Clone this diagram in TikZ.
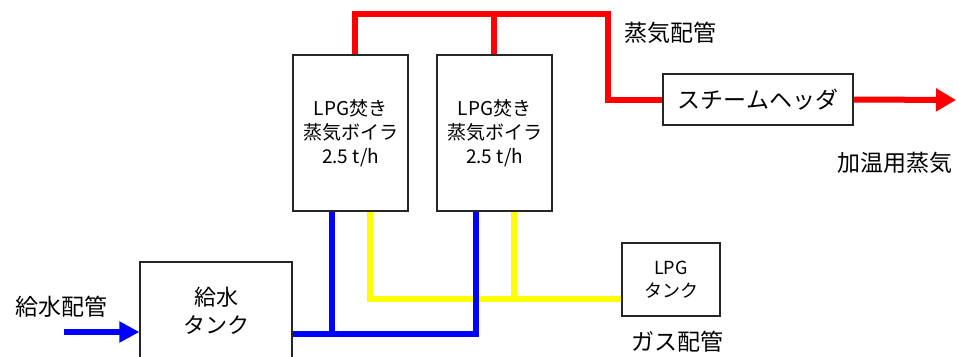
\documentclass[tikz,border=0pt]{standalone}
\usepackage{fontspec}
\setmainfont{Noto Sans CJK JP}
\usetikzlibrary{arrows.meta}
\tikzset{
  box/.style={draw=black!85, line width=1.2pt, fill=white, inner sep=0pt, align=center},
  pipe/.style={line width=6pt, line join=miter},
  redpipe/.style={pipe, draw={rgb,255:red,255;green,0;blue,0}},
  bluepipe/.style={pipe, draw={rgb,255:red,0;green,0;blue,255}},
  yellowpipe/.style={pipe, draw={rgb,255:red,255;green,255;blue,0}},
  lbl/.style={inner sep=0pt, font=\fontsize{23}{28}\selectfont},
}
\begin{document}
\begin{tikzpicture}[x=1pt,y=-1pt]
\useasboundingbox (0,0) rectangle (958,356);
\clip (0,0) rectangle (958,356);
% nodes
\node[box, minimum width=115pt, minimum height=156pt, font=\fontsize{19}{24}\selectfont] (b1) at (350.5,133)
  {LPG焚き\\蒸気ボイラ\\{\fontsize{19}{24}\selectfont 2.5 t/h}};
\node[box, minimum width=115pt, minimum height=156pt, font=\fontsize{19}{24}\selectfont] (b2) at (494.5,133)
  {LPG焚き\\蒸気ボイラ\\{\fontsize{19}{24}\selectfont 2.5 t/h}};
\node[box, minimum width=190pt, minimum height=51pt, font=\fontsize{23}{28}\selectfont] (hdr) at (758,99.5) {スチームヘッダ};
\node[box, minimum width=152pt, minimum height=98pt, font=\fontsize{22}{28}\selectfont] (tank) at (216,311) {給水\\タンク};
\node[box, minimum width=98pt, minimum height=73pt, font=\fontsize{18}{23}\selectfont] (lpg) at (671,279.5) {LPG\\タンク};
% labels
\node[lbl] (l1) at (670,33) {蒸気配管};
\node[lbl] (l2) at (895,163) {加温用蒸気};
\node[lbl] (l3) at (61,307) {給水配管};
\node[lbl] (l4) at (677,342) {ガス配管};
% coordinates
\coordinate (rc) at (608,14);
\coordinate (yl) at (0,298.5);
\coordinate (bl) at (0,334);
\coordinate (outS) at (956,100);
\coordinate (inW) at (64,332);
% yellow gas pipes
\draw[yellowpipe] ([xshift=19pt]b1.south) |- (lpg.west |- yl);
\draw[yellowpipe] ([xshift=19pt]b2.south) -- ([xshift=19pt]b2.south |- yl);
% blue water pipes
\draw[bluepipe] (tank.east |- bl) -| ([xshift=-19pt]b2.south);
\draw[bluepipe] ([xshift=-19pt]b1.south) -- ([xshift=-19pt]b1.south |- bl);
\draw[bluepipe, -{Triangle[length=20pt,width=20pt]}] (inW) -- (tank.west |- inW);
% red steam pipes
\draw[redpipe] ([xshift=4.5pt]b1.north) |- (rc) |- (hdr.west);
\draw[redpipe] ([xshift=-0.5pt]b2.north) -- ([xshift=-0.5pt]b2.north |- rc);
\draw[redpipe, -{Triangle[length=20pt,width=22pt]}] (hdr.east) -- (outS);
\end{tikzpicture}
\end{document}
